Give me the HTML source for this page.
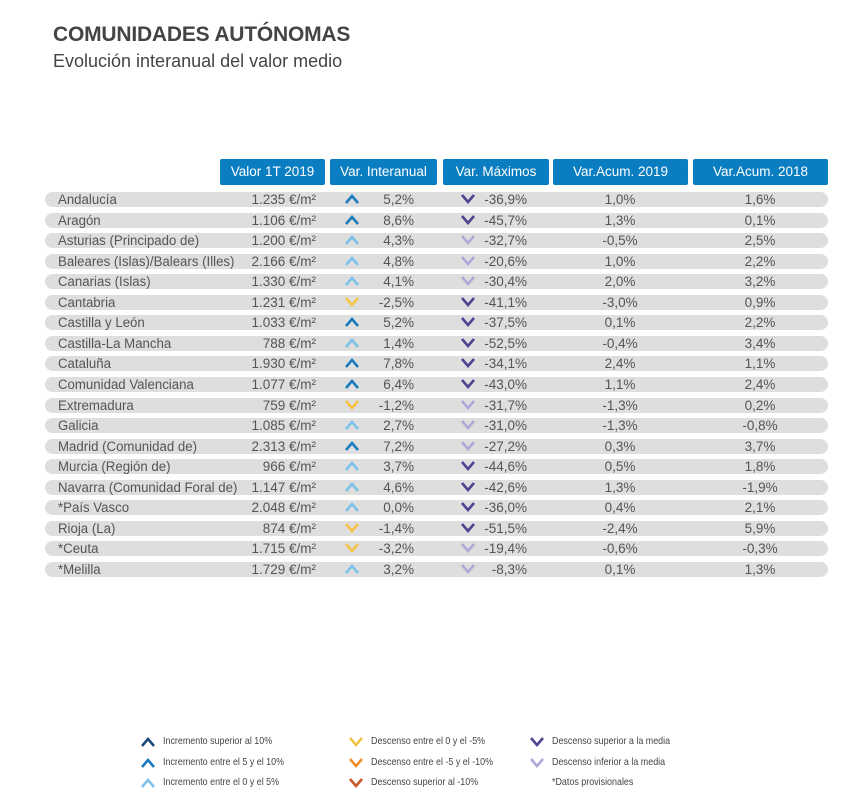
<!DOCTYPE html>
<html><head><meta charset="utf-8"><style>
body{margin:0;width:864px;height:798px;background:#fff;font-family:"Liberation Sans",sans-serif;position:relative;overflow:hidden}
.t{position:absolute;left:53px;top:23px;font-size:21px;font-weight:bold;color:#444;letter-spacing:-0.2px}
.s{position:absolute;left:53px;top:51px;font-size:18px;color:#444}
.h{position:absolute;top:159px;height:26px;background:#0b7ec1;color:#fff;font-size:13.5px;line-height:26px;text-align:center;border-radius:2px}
.row{position:absolute;left:45px;width:783px;height:15px;background:#dedede;border-radius:8px}
.c{position:absolute;font-size:13.5px;color:#555;line-height:15px;white-space:nowrap}
.lg{position:absolute;font-size:10.5px;color:#444;white-space:nowrap;transform:scaleX(0.85);transform-origin:left}
svg{position:absolute;overflow:visible}
</style></head><body>
<div class="t">COMUNIDADES AUTÓNOMAS</div>
<div class="s">Evolución interanual del valor medio</div>
<div class="h" style="left:220px;width:105px">Valor 1T 2019</div>
<div class="h" style="left:330px;width:107px">Var. Interanual</div>
<div class="h" style="left:443px;width:106px">Var. Máximos</div>
<div class="h" style="left:553px;width:135px">Var.Acum. 2019</div>
<div class="h" style="left:693px;width:135px">Var.Acum. 2018</div>
<div id="tbl"></div>
<div id="legend"></div>
<script>
const regions=["Andalucía","Aragón","Asturias (Principado de)","Baleares (Islas)/Balears (Illes)","Canarias (Islas)","Cantabria","Castilla y León","Castilla-La Mancha","Cataluña","Comunidad Valenciana","Extremadura","Galicia","Madrid (Comunidad de)","Murcia (Región de)","Navarra (Comunidad Foral de)","*País Vasco","Rioja (La)","*Ceuta","*Melilla"];
const valor=[1235,1106,1200,2166,1330,1231,1033,788,1930,1077,759,1085,2313,966,1147,2048,874,1715,1729];
const interanual=[5.2,8.6,4.3,4.8,4.1,-2.5,5.2,1.4,7.8,6.4,-1.2,2.7,7.2,3.7,4.6,0.0,-1.4,-3.2,3.2];
const maximos=[-36.9,-45.7,-32.7,-20.6,-30.4,-41.1,-37.5,-52.5,-34.1,-43.0,-31.7,-31.0,-27.2,-44.6,-42.6,-36.0,-51.5,-19.4,-8.3];
const acum2019=[1.0,1.3,-0.5,1.0,2.0,-3.0,0.1,-0.4,2.4,1.1,-1.3,-1.3,0.3,0.5,1.3,0.4,-2.4,-0.6,0.1];
const acum2018=[1.6,0.1,2.5,2.2,3.2,0.9,2.2,3.4,1.1,2.4,0.2,-0.8,3.7,1.8,-1.9,2.1,5.9,-0.3,1.3];
const maxThreshold=-33.5;
const C={up10:"#1d4a78",up5:"#1a7cbf",up0:"#7cc2ea",dn0:"#f6c344",dn5:"#ef8c2c",dn10:"#c8582a",dkp:"#4c4490",ltp:"#b0a8d6"};
function fmtPct(v){return v.toFixed(1).replace('.',',')+'%';}
function fmtVal(v){let s=String(v);if(s.length>3)s=s.slice(0,-3)+'.'+s.slice(-3);return s+' €/m²';}
function arrow(x,y,up,col){return `<svg style="left:${x}px;top:${y}px" width="14" height="10"><polyline points="${up?'1,9 7,2 13,9':'1,1 7,8 13,1'}" fill="none" stroke="${col}" stroke-width="2.6"/></svg>`;}
function interCol(v){return v>=10?C.up10:v>=5?C.up5:v>=0?C.up0:v>-5?C.dn0:v>-10?C.dn5:C.dn10;}
const tbl=document.getElementById('tbl');
const y0=192, step=20.55;
regions.forEach((r,i)=>{
  const y=Math.round(y0+i*step);
  const row=document.createElement('div');
  row.className='row';row.style.top=y+'px';
  
  
  let h=`<div class="c" style="left:13px;top:0;transform:scaleX(0.98);transform-origin:left">${r}</div>`;
  h+=`<div class="c" style="right:${828-316}px;top:0">${fmtVal(valor[i])}</div>`;
  const iv=interanual[i];
  h+=arrow(300,2,iv>=0,interCol(iv));
  h+=`<div class="c" style="right:${828-414}px;top:0">${fmtPct(iv)}</div>`;
  const mv=maximos[i];
  h+=arrow(416,2,false,mv<maxThreshold?C.dkp:C.ltp);
  h+=`<div class="c" style="right:${828-527}px;top:0">${fmtPct(mv)}</div>`;
  h+=`<div class="c" style="left:530px;width:90px;text-align:center;top:0">${fmtPct(acum2019[i])}</div>`;
  h+=`<div class="c" style="left:670px;width:90px;text-align:center;top:0">${fmtPct(acum2018[i])}</div>`;
  row.innerHTML=h;tbl.appendChild(row);
});
const legItems=[[141,742,true,C.up10,"Incremento superior al 10%"],[141,763,true,C.up5,"Incremento entre el 5 y el 10%"],[141,783,true,C.up0,"Incremento entre el 0 y el 5%"],
[349,742,false,C.dn0,"Descenso entre el 0 y el -5%"],[349,763,false,C.dn5,"Descenso entre el -5 y el -10%"],[349,783,false,C.dn10,"Descenso superior al -10%"],
[530,742,false,C.dkp,"Descenso superior a la media"],[530,763,false,C.ltp,"Descenso inferior a la media"],[530,783,null,null,"*Datos provisionales"]];
const lg=document.getElementById('legend');
legItems.forEach(it=>{
  const d=document.createElement('div');
  
  
  let h='';
  if(it[3])h+=arrow(it[0],it[1]-5,it[2],it[3]);
  h+=`<div class="lg" style="left:${it[0]+22}px;top:${it[1]-7}px">${it[4]}</div>`;
  d.innerHTML=h;lg.appendChild(d);
});
</script>
</body></html>
